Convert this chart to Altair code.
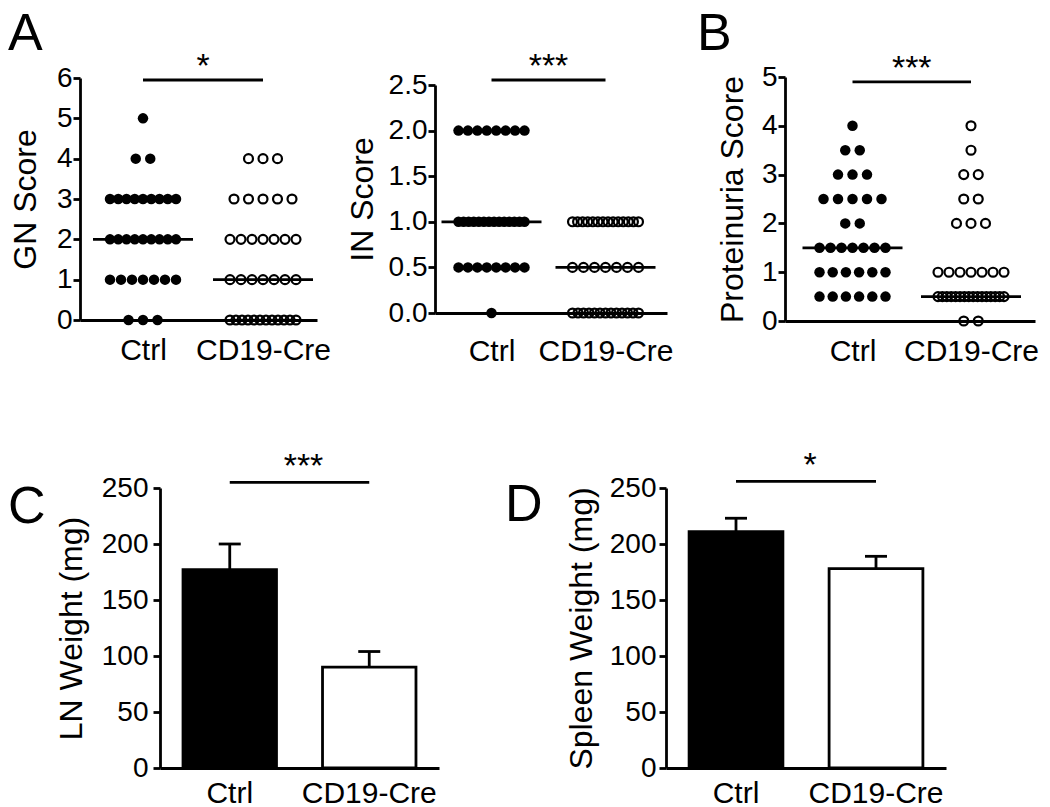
import altair as alt
import numpy as np
import pandas as pd

FONT = "Liberation Sans"
groups = ["Ctrl", "CD19-Cre"]

# ---- Panel A / B : individual scores (one value per mouse) ----
gn_ctrl = [5] + [4] * 2 + [3] * 9 + [2] * 9 + [1] * 7 + [0] * 3
gn_cre = [4] * 3 + [3] * 5 + [2] * 7 + [1] * 7 + [0] * 12
in_ctrl = [2.0] * 8 + [1.0] * 14 + [0.5] * 8 + [0.0] * 1
in_cre = [1.0] * 14 + [0.5] * 7 + [0.0] * 13
prot_ctrl = [4.0] + [3.5] * 2 + [3.0] * 3 + [2.5] * 5 + [2.0] * 2 + [1.5] * 7 + [1.0] * 6 + [0.5] * 6
prot_cre = [4.0] + [3.5] + [3.0] * 2 + [2.5] * 2 + [2.0] * 3 + [1.0] * 7 + [0.5] * 16 + [0.0] * 2

# ---- Panel C / D : mean +/- SEM ----
ln_mean = [177, 90]
ln_sem = [23, 14]
spleen_mean = [211, 178]
spleen_sem = [12, 11]

# ---- y tick values ----
gn_ticks = [0, 1, 2, 3, 4, 5, 6]
in_ticks = [0.0, 0.5, 1.0, 1.5, 2.0, 2.5]
prot_ticks = [0, 1, 2, 3, 4, 5]
weight_ticks = [0, 50, 100, 150, 200, 250]

TICK_FS = 28
TITLE_FS = 32
CAT_FS = 30
STAR_FS = 34
LINE_W = 2.8


def swarm(ctrl, cre, ppu, max_gap=14.5, row_width=66.0):
    rows = []
    for gi, vals in ((1, ctrl), (2, cre)):
        for v in sorted(set(vals), reverse=True):
            n = vals.count(v)
            gap = min(max_gap, row_width / (n - 1)) if n > 1 else 0.0
            for i in range(n):
                rows.append({"group": groups[gi - 1],
                             "pos": gi + (i - (n - 1) / 2) * gap / ppu,
                             "value": v})
    return pd.DataFrame(rows)


def letter_layer(letter, lx, ly):
    return alt.Chart(pd.DataFrame({"t": [letter]})).mark_text(
        align="left", baseline="top", fontSize=52, font=FONT, color="black"
    ).encode(x=alt.value(lx), y=alt.value(ly), text="t:N")


def dot_panel(ctrl, cre, ytitle, yticks, fmt, width, height, ctrl_px, cre_px,
              sig_y, stars, label_pad, title_pad, ylab_pad, letter=None, lx=0, ly=0):
    ppu = cre_px - ctrl_px
    lo = 1 - ctrl_px / ppu
    hi = lo + width / ppu
    pts = swarm(ctrl, cre, ppu)
    xs = alt.Scale(domain=[lo, hi], nice=False, zero=False)
    ys = alt.Scale(domain=[yticks[0], yticks[-1]], nice=False, zero=False)
    xaxis = alt.Axis(values=[1, 2],
                     labelExpr="datum.value == 1 ? '%s' : '%s'" % (groups[0], groups[1]),
                     ticks=False, title=None, labelPadding=label_pad, labelFontSize=CAT_FS,
                     labelFlush=False, labelOverlap=False, zindex=1)
    yaxis = alt.Axis(values=yticks, format=fmt, title=ytitle, titlePadding=title_pad,
                     labelPadding=ylab_pad, labelFontSize=TICK_FS, titleFontSize=TITLE_FS,
                     labelOverlap=False, zindex=1)
    filled = alt.Chart(pts[pts.group == groups[0]]).mark_point(
        filled=True, size=110, color="black", opacity=1
    ).encode(x=alt.X("pos:Q", scale=xs, axis=xaxis),
             y=alt.Y("value:Q", scale=ys, axis=yaxis))
    hollow = alt.Chart(pts[pts.group == groups[1]]).mark_point(
        filled=False, size=80, color="black", strokeWidth=2.2, opacity=1
    ).encode(x=alt.X("pos:Q"), y=alt.Y("value:Q"))
    half = 50.0 / ppu
    med = pd.DataFrame({"pos": [1 - half, 2 - half], "x2": [1 + half, 2 + half],
                        "value": [float(np.median(ctrl)), float(np.median(cre))]})
    med_rule = alt.Chart(med).mark_rule(color="black", strokeWidth=LINE_W).encode(
        x=alt.X("pos:Q"), x2="x2:Q", y=alt.Y("value:Q"))
    sig = pd.DataFrame({"pos": [1.0], "b": [2.0], "value": [sig_y], "mid": [1.5], "s": [stars]})
    sig_rule = alt.Chart(sig).mark_rule(color="black", strokeWidth=LINE_W).encode(
        x=alt.X("pos:Q"), x2="b:Q", y=alt.Y("value:Q"))
    sig_text = alt.Chart(sig).mark_text(fontSize=STAR_FS, font=FONT, color="black",
                                        baseline="alphabetic", dy=-3).encode(
        x=alt.X("mid:Q"), y=alt.Y("value:Q"), text="s:N")
    layers = [filled, hollow, med_rule, sig_rule, sig_text]
    if letter:
        layers.append(letter_layer(letter, lx, ly))
    return alt.layer(*layers).properties(width=width, height=height)


def bar_panel(means, sems, ytitle, width, height, sig_y, stars, title_pad, ylab_pad,
              letter, lx, ly):
    df = pd.DataFrame({"group": groups, "mean": means,
                       "upper": [m + s for m, s in zip(means, sems)]})
    xs = alt.Scale(domain=groups, paddingInner=0.33, paddingOuter=0.165)
    ys = alt.Scale(domain=[weight_ticks[0], weight_ticks[-1]], nice=False)
    bars = alt.Chart(df).mark_bar(stroke="black", strokeWidth=LINE_W, opacity=1).encode(
        x=alt.X("group:N", scale=xs, sort=groups,
                axis=alt.Axis(title=None, labelAngle=0, ticks=False, labelPadding=10,
                              labelFontSize=CAT_FS, zindex=1)),
        y=alt.Y("mean:Q", scale=ys,
                axis=alt.Axis(values=weight_ticks, format="d", title=ytitle,
                              titlePadding=title_pad, labelPadding=ylab_pad,
                              labelFontSize=TICK_FS, titleFontSize=TITLE_FS,
                              labelOverlap=False, zindex=1)),
        fill=alt.Fill("group:N", scale=alt.Scale(domain=groups, range=["black", "white"]),
                      legend=None))
    whisk = alt.Chart(df).mark_rule(color="black", strokeWidth=LINE_W).encode(
        x=alt.X("group:N", sort=groups),
        y=alt.Y("mean:Q"), y2="upper:Q")
    cap = alt.Chart(df).mark_tick(color="black", size=22, thickness=LINE_W, opacity=1).encode(
        x=alt.X("group:N", sort=groups), y=alt.Y("upper:Q"))
    sig = pd.DataFrame({"group": [groups[0]], "g2": [groups[1]], "mean": [sig_y], "s": [stars]})
    sig_rule = alt.Chart(sig).mark_rule(color="black", strokeWidth=LINE_W).encode(
        x=alt.X("group:N", sort=groups), x2="g2:N", y=alt.Y("mean:Q"))
    sig_text = alt.Chart(sig).mark_text(fontSize=STAR_FS, font=FONT, color="black",
                                        baseline="alphabetic", dy=-5).encode(
        x=alt.value(width / 2 + 4), y=alt.Y("mean:Q"), text="s:N")
    return alt.layer(bars, whisk, cap, sig_rule, sig_text,
                     letter_layer(letter, lx, ly)).properties(width=width, height=height)


gn = dot_panel(gn_ctrl, gn_cre, "GN Score", gn_ticks, "d", 237, 242, 63, 183,
               5.95, "*", 15, 14, 1, "A", -72, -69)
inn = dot_panel(in_ctrl, in_cre, "IN Score", in_ticks, ".1f", 232, 228, 56.5, 170.5,
                2.555, "***", 23, 9, 1)
prot = dot_panel(prot_ctrl, prot_cre, "Proteinuria Score", prot_ticks, "d", 250, 244,
                 67.5, 186, 4.9, "***", 15, 12, 1, "B", -88, -68)

lnw = bar_panel(ln_mean, ln_sem, "LN Weight (mg)", 279, 280, 255, "***", 13, 5,
                "C", -152, -6)
spl = bar_panel(spleen_mean, spleen_sem, "Spleen Weight (mg)", 280, 280, 256, "*", 11, 3,
                "D", -161, -8)

spacer = alt.Chart(pd.DataFrame({"v": [0]})).mark_point(opacity=0).encode(
    x=alt.X("v:Q", axis=None), y=alt.Y("v:Q", axis=None)).properties(width=1, height=1)

top = alt.hconcat(gn, inn, prot, spacing=118, bounds="flush", center=True)
bottom_inner = alt.hconcat(lnw, spl, spacing=227, bounds="flush", center=True)
bottom = alt.hconcat(spacer, bottom_inner, spacing=79, bounds="flush")

chart = alt.vconcat(top, bottom, spacing=411, bounds="flush").properties(
    padding=0, background="white"
).configure_view(stroke=None).configure_axis(
    domainColor="black", domainWidth=LINE_W, tickColor="black", tickWidth=LINE_W,
    tickSize=7, labelColor="black", titleColor="black", labelFont=FONT, titleFont=FONT,
    titleFontWeight="normal", grid=False
)

chart.save("out.html", embed_options={"renderer": "svg", "actions": False})
